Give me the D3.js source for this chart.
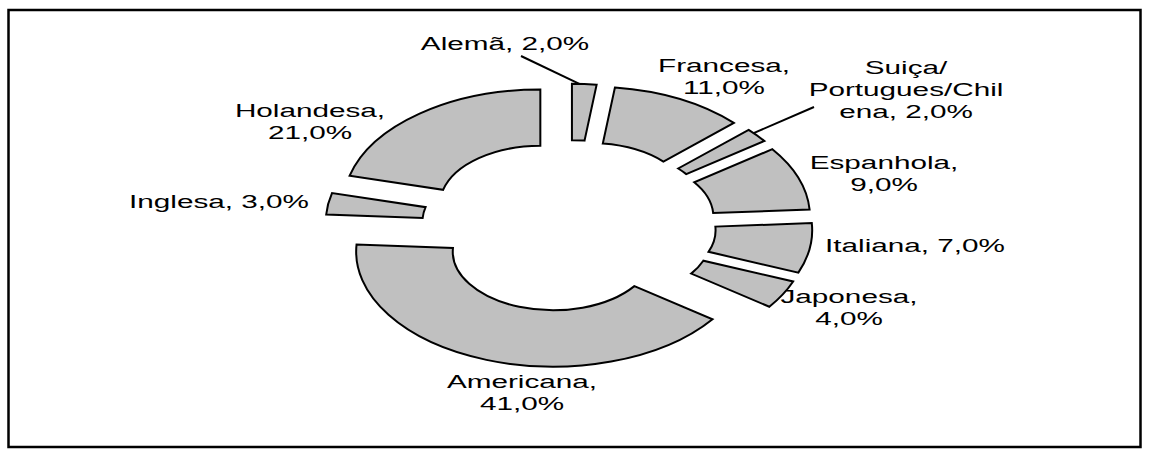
<!DOCTYPE html>
<html>
<head>
<meta charset="utf-8">
<script src="https://cdn.jsdelivr.net/npm/d3@7"></script>
<style>
  body { margin: 0; background: #fff; }
  svg text { font-family: "Liberation Sans", Arial, sans-serif; font-size: 18px; fill: #000; }
</style>
</head>
<body>
<svg class="chart"></svg>
<script>
const WIDTH = 1150;
const HEIGHT = 456;

// data
const categories = ["Alemã", "Francesa", "Suiça/Portugues/Chilena", "Espanhola", "Italiana",
                    "Japonesa", "Americana", "Inglesa", "Holandesa"];
const shares = [2, 11, 2, 9, 7, 4, 41, 3, 21];

// the original picture is stretched sideways, so the pie is drawn round and scaled in x
const CX = 569, CY = 226, STRETCH = 1.713, TEXT_STRETCH = 1.65;
const R_OUT = 115, R_IN = 58.6, EXPLODE = 27.3;

// where the labels sit (screen px: centre x, first baseline) and where they wrap
const labelLayout = [
  { x: 505, y: 50,  breaks: [],     leader: [521, 56] },
  { x: 724, y: 72,  breaks: [9] },
  { x: 906, y: 74,  breaks: [6, 20], leader: [814, 107] },
  { x: 884, y: 169, breaks: [10] },
  { x: 915, y: 252, breaks: [] },
  { x: 849, y: 303, breaks: [9] },
  { x: 522, y: 388, breaks: [10] },
  { x: 219, y: 208, breaks: [] },
  { x: 310, y: 117, breaks: [10] }
];
const LINE_H = 22;

const fmt = v => v.toFixed(1).replace(".", ",") + "%";

let svg = d3.select(".chart").attr("width", WIDTH).attr("height", HEIGHT);

svg.append("rect")
   .attr("x", 8.5).attr("y", 10)
   .attr("width", 1132).attr("height", 437)
   .attr("fill", "none").attr("stroke", "#000").attr("stroke-width", 2.5);

let pie = d3.pie().sort(null).value(d => d)(shares);
let arc = d3.arc().innerRadius(R_IN).outerRadius(R_OUT);

const mid = d => (d.startAngle + d.endAngle) / 2;
const offset = d => [EXPLODE * Math.sin(mid(d)), -EXPLODE * Math.cos(mid(d))];

let chart = svg.append("g")
               .attr("transform", `translate(${CX},${CY}) scale(${STRETCH},1)`);

chart.selectAll("path.slice")
     .data(pie)
     .enter().append("path")
     .attr("class", "slice")
     .attr("d", arc)
     .attr("transform", d => `translate(${offset(d)[0]},${offset(d)[1]})`)
     .attr("fill", "#c0c0c0")
     .attr("stroke", "#000")
     .attr("stroke-width", 2)
     .attr("stroke-linejoin", "miter")
     .attr("vector-effect", "non-scaling-stroke");

// leader lines for the thin slices that had their labels moved
pie.forEach((d, i) => {
  let lay = labelLayout[i];
  if (!lay.leader) return;
  let a = d.startAngle + (d.endAngle - d.startAngle) * 0.3;
  let [ox, oy] = offset(d);
  let ex = CX + (ox + R_OUT * Math.sin(a)) * STRETCH;
  let ey = CY + oy - R_OUT * Math.cos(a);
  svg.append("line")
     .attr("x1", lay.leader[0]).attr("y1", lay.leader[1])
     .attr("x2", ex).attr("y2", ey)
     .attr("stroke", "#000").attr("stroke-width", 2);
});

// labels
categories.forEach((name, i) => {
  let lay = labelLayout[i];
  let full = `${name}, ${fmt(shares[i])}`;
  let cuts = [0, ...lay.breaks, full.length];
  let lines = [];
  for (let k = 0; k < cuts.length - 1; k++) lines.push(full.slice(cuts[k], cuts[k + 1]).trim());

  let t = svg.append("text")
             .attr("transform", `translate(${lay.x},${lay.y}) scale(${TEXT_STRETCH},1)`)
             .attr("text-anchor", "middle");
  lines.forEach((line, k) => {
    t.append("tspan").attr("x", 0).attr("y", k * LINE_H).text(line);
  });
});
</script>
</body>
</html>
